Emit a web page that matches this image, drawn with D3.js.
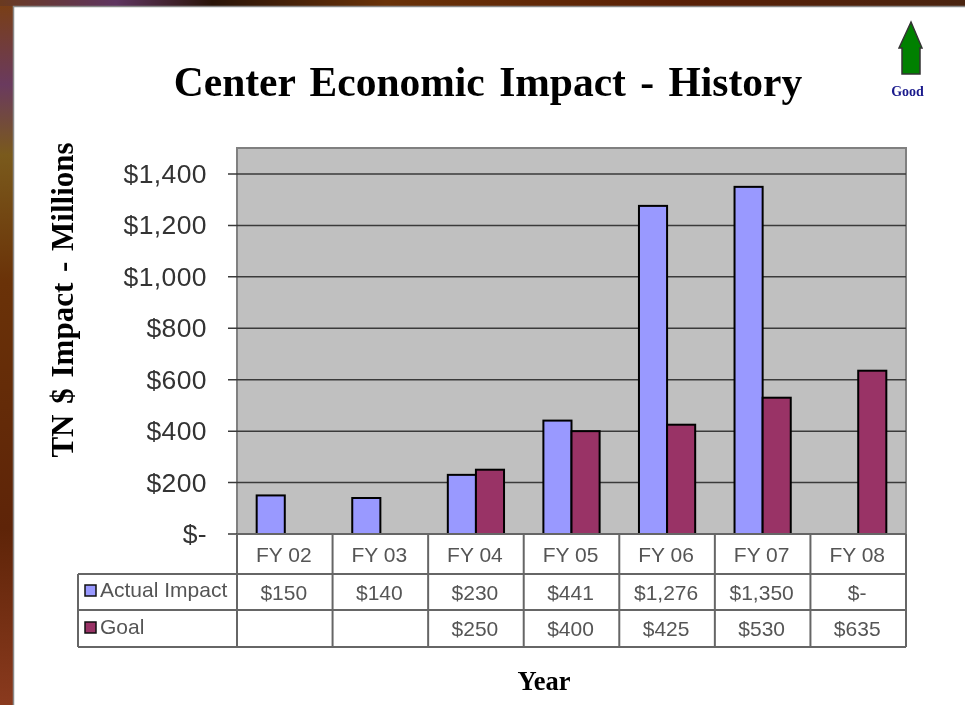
<!DOCTYPE html>
<html>
<head>
<meta charset="utf-8">
<script src="https://cdn.jsdelivr.net/npm/d3@7"></script>
<style>
html, body { margin: 0; padding: 0; background: #fff; overflow: hidden; }
svg { display: block; filter: blur(0.6px); }
</style>
</head>
<body>
<svg id="chart" width="965" height="705"></svg>
<script>
const years = ['FY 02', 'FY 03', 'FY 04', 'FY 05', 'FY 06', 'FY 07', 'FY 08']
const actual = [150, 140, 230, 441, 1276, 1350, 0]
const goal = [null, null, 250, 400, 425, 530, 635]
const ticks = [0, 200, 400, 600, 800, 1000, 1200, 1400]
const seriesNames = ['Actual Impact', 'Goal']
const seriesColors = ['#9999ff', '#993366']
const sansFont = 'Liberation Sans, Arial, sans-serif'
const serifFont = 'Liberation Serif, Times New Roman, serif'

const svg = d3.select('#chart')
const defs = svg.append('defs')

// the slide behind the chart, only a strip of it shows
const edge = defs.append('linearGradient').attr('id', 'edge')
  .attr('x1', 0).attr('y1', 0).attr('x2', 0).attr('y2', 1)
const edgeStops = [[0, '#7a3f12'], [0.12, '#6a3a5e'], [0.22, '#7a5a1c'], [0.4, '#6a3208'], [0.75, '#5e2408'], [1, '#8a3a1e']]
edgeStops.forEach(s => edge.append('stop').attr('offset', s[0]).attr('stop-color', s[1]))
const topEdge = defs.append('linearGradient').attr('id', 'topEdge')
const topStops = [[0, '#6a3a20'], [0.12, '#5f3560'], [0.22, '#2a1408'], [0.4, '#6a3208'], [0.7, '#5a2006'], [1, '#4a2410']]
topStops.forEach(s => topEdge.append('stop').attr('offset', s[0]).attr('stop-color', s[1]))

svg.append('rect').attr('width', 13).attr('height', 705).attr('fill', 'url(#edge)')
svg.append('rect').attr('width', 965).attr('height', 6).attr('fill', 'url(#topEdge)')
svg.append('path').attr('d', 'M13.5,705V6.5H965').attr('fill', 'none').attr('stroke', '#8a8a8a').attr('stroke-width', 1.5)

const left = 237, right = 906, plotTop = 148, base = 534
const y = d3.scaleLinear().domain([0, 1400]).range([base, 174])
const x = d3.scaleBand().domain(years).range([left, right])
const bar = d3.scaleBand().domain(seriesNames).range([0, x.bandwidth()]).paddingOuter(0.7).paddingInner(0)

// plot area
svg.append('rect').attr('x', left).attr('y', plotTop)
  .attr('width', right - left).attr('height', base - plotTop)
  .attr('fill', '#c0c0c0').attr('stroke', '#808080').attr('stroke-width', 2)

const yAxis = d3.axisLeft(y).tickValues(ticks).tickSize(0).tickPadding(30)
  .tickFormat(d => d === 0 ? '$-' : '$' + d3.format(',')(d))
const yg = svg.append('g').attr('transform', `translate(${left},0)`).call(yAxis)
yg.select('.domain').remove()
yg.selectAll('.tick text').attr('font-family', sansFont).attr('font-size', 26.5)
  .attr('letter-spacing', 0.4).attr('fill', '#333')

svg.append('g').selectAll('line').data(ticks).join('line')
  .attr('x1', left - 9).attr('x2', right)
  .attr('y1', d => y(d)).attr('y2', d => y(d))
  .attr('stroke', '#3a3a3a').attr('stroke-width', 1.5)

// bars
const series = [actual, goal]
series.forEach((values, s) => {
  svg.append('g').selectAll('rect').data(values.map((v, i) => ({ v, year: years[i] })).filter(d => d.v))
    .join('rect')
    .attr('x', d => x(d.year) + bar(seriesNames[s]))
    .attr('y', d => y(d.v))
    .attr('width', bar.bandwidth())
    .attr('height', d => base - y(d.v))
    .attr('fill', seriesColors[s])
    .attr('stroke', '#000')
    .attr('stroke-width', 2)
})

// data table under the chart
const rows = [574, 610, 647]
const tableLeft = 78
const grid = svg.append('g').attr('stroke', '#666').attr('stroke-width', 2).attr('fill', 'none')
x.domain().concat(['end']).forEach((d, i) => {
  const xp = left + i * x.step()
  grid.append('line').attr('x1', xp).attr('x2', xp).attr('y1', base).attr('y2', rows[2])
})
rows.forEach(r => grid.append('line').attr('x1', tableLeft).attr('x2', right).attr('y1', r).attr('y2', r))
grid.append('line').attr('x1', tableLeft).attr('x2', tableLeft).attr('y1', rows[0]).attr('y2', rows[2])
grid.append('line').attr('x1', left).attr('x2', right).attr('y1', base).attr('y2', base)

const cell = (xp, yp, t, anchor) => svg.append('text').attr('x', xp).attr('y', yp)
  .attr('text-anchor', anchor || 'middle').attr('font-family', sansFont)
  .attr('font-size', 21).attr('fill', '#555').text(t)
const money = v => v === null ? '' : v === 0 ? '$-' : '$' + d3.format(',')(v)

years.forEach((yr, i) => {
  const cx = x(yr) + x.bandwidth() / 2 - 1
  cell(cx, 562, yr)
  cell(cx, 600, money(actual[i]))
  cell(cx, 636, money(goal[i]))
})

seriesNames.forEach((name, s) => {
  const mid = s === 0 ? 590 : 627
  svg.append('rect').attr('x', 85).attr('y', mid - 5).attr('width', 11).attr('height', 11)
    .attr('fill', seriesColors[s]).attr('stroke', '#111').attr('stroke-width', 1.5)
  cell(100, mid + 7, name, 'start')
})

// titles
const serif = (t, size) => svg.append('text').attr('font-family', serifFont)
  .attr('font-weight', 'bold').attr('font-size', size).attr('fill', '#000')
  .attr('text-anchor', 'middle').text(t)
serif('Center Economic Impact - History', 41.5).attr('x', 488).attr('y', 96).attr('word-spacing', 4)
serif('TN $ Impact - Millions', 31).attr('word-spacing', 3).attr('transform', 'translate(73,300) rotate(-90)')
serif('Year', 26.5).attr('x', 544).attr('y', 690)

// good arrow
svg.append('path')
  .attr('d', 'M911,22 L922,48 L920,48 L920,74 L902,74 L902,48 L899,48 Z')
  .attr('fill', '#008000').attr('stroke', '#333').attr('stroke-width', 1.5)
svg.append('text').attr('x', 907.5).attr('y', 96).attr('text-anchor', 'middle')
  .attr('font-family', serifFont).attr('font-weight', 'bold').attr('font-size', 14)
  .attr('fill', '#1a1a8c').text('Good')
</script>
</body>
</html>
